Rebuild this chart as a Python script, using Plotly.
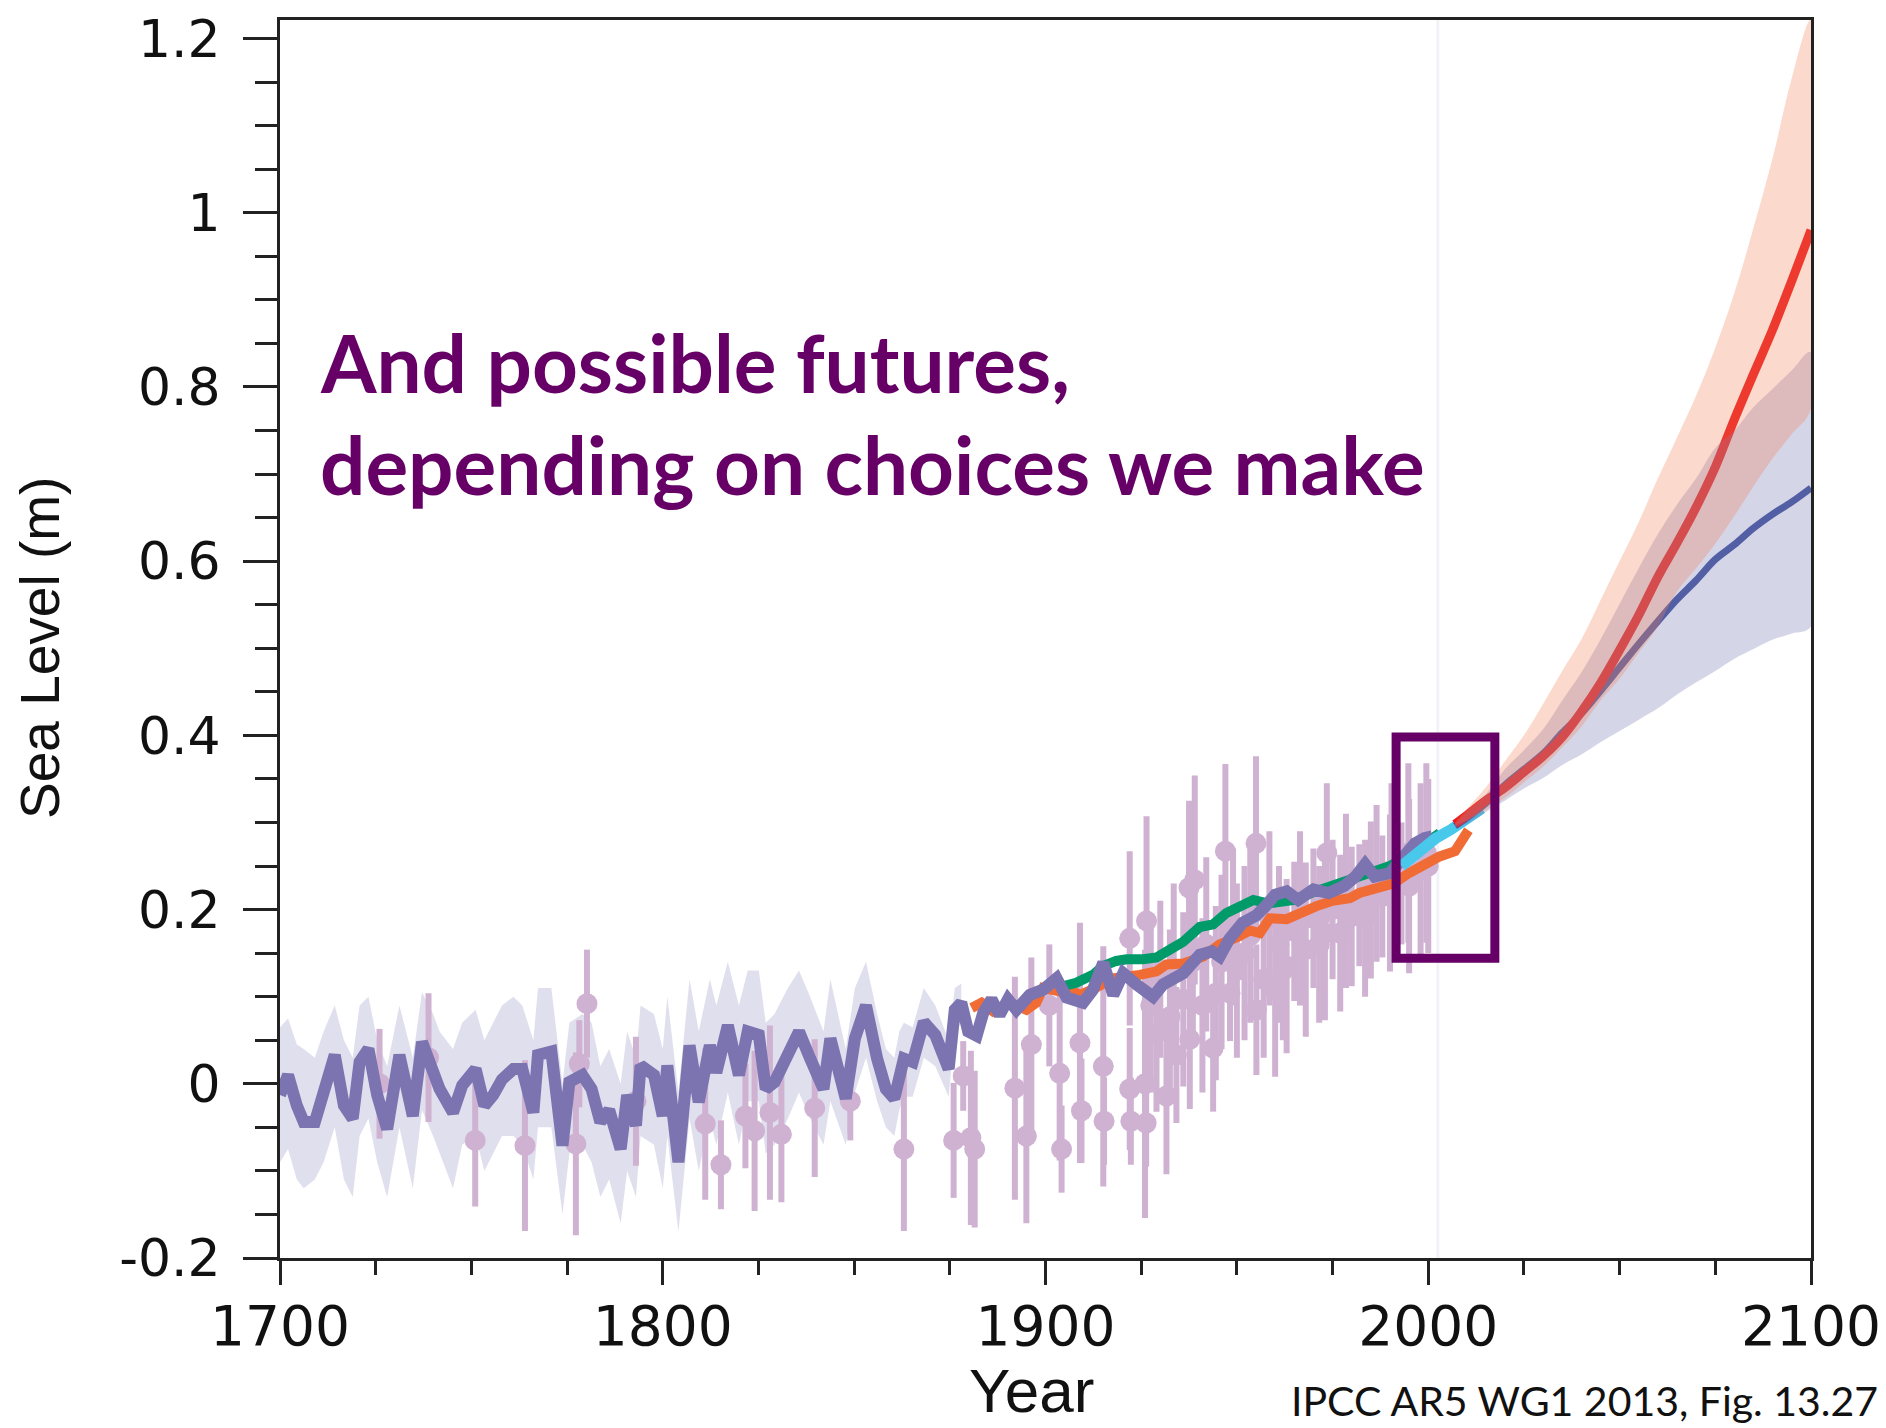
import plotly.graph_objects as go

# ---------------- data ----------------
# Reconstruction (purple, 1700-2001)
recon_years = [1700, 1702.1, 1704.4, 1706.2, 1709.1, 1711.4, 1714.3, 1716.7, 1719.0, 1720.8,
               1723.1, 1725.4, 1728.0, 1731.2, 1734.7, 1737.1, 1740.0, 1741.7, 1745.2, 1747.6,
               1751.1, 1753.4, 1755.7, 1758.0, 1761.0, 1763.3, 1766.2, 1767.4, 1770.9, 1773.8,
               1775.6, 1779.0, 1781.4, 1783.7, 1786.0, 1789.0, 1790.7, 1793.0, 1794.2, 1797.7,
               1800.0, 1801.2, 1804.1, 1807.0, 1809.4, 1812.3, 1814.0, 1817.0, 1819.9, 1822.2,
               1825.1, 1826.9, 1829.2, 1832.7, 1835.6, 1838.5, 1842.0, 1843.8, 1847.8, 1850.2,
               1853.1, 1856.0, 1858.3, 1860.5, 1861.8, 1863.0, 1865.3, 1868.2, 1871.2, 1874.7,
               1876.3, 1878.0,
               1879.8, 1882.0, 1883.7, 1885.9, 1888.0, 1890.2, 1892.4, 1895.9, 1899.4, 1902.9,
               1905.5, 1909.8, 1912.4, 1915.1, 1917.7, 1920.3, 1923.8, 1928.1, 1930.7, 1936.0,
               1940.3, 1943.5, 1945.5, 1948.0, 1951.5, 1955.0, 1957.5, 1960.0, 1963.0, 1966.0,
               1970.0, 1974.0, 1978.0, 1981.0, 1983.5, 1986.0, 1990.0, 1994.0, 1996.5, 1999.0,
               2001.0]
recon_level = [-0.013, 0.010, -0.025, -0.044, -0.044, -0.013, 0.033, -0.025, -0.040, 0.025,
               0.040, -0.013, -0.052, 0.033, -0.037, 0.048, 0.017, -0.006, -0.033, -0.002,
               0.017, -0.025, -0.013, 0.005, 0.017, 0.017, -0.033, 0.033, 0.037, -0.071,
               0.002, 0.010, -0.006, -0.044, -0.030, -0.075, -0.013, -0.048, 0.021, 0.010,
               -0.037, 0.021, -0.090, 0.044, -0.021, 0.044, 0.013, 0.067, 0.010, 0.060,
               0.056, -0.006, 0.002, 0.037, 0.060, 0.029, -0.006, 0.052, -0.017, 0.052,
               0.090, 0.029, -0.006, -0.017, 0.017, 0.029, 0.025, 0.071, 0.056, 0.017,
               0.085, 0.093,
               0.060, 0.055, 0.081, 0.097, 0.079, 0.097, 0.085, 0.102, 0.108, 0.121,
               0.099, 0.093, 0.108, 0.139, 0.102, 0.127, 0.114, 0.100, 0.114, 0.127,
               0.148, 0.152, 0.146, 0.166, 0.185, 0.193, 0.204, 0.217, 0.221, 0.211,
               0.223, 0.219, 0.227, 0.238, 0.252, 0.238, 0.242, 0.262, 0.276, 0.282,
               0.284]
# Uncertainty band of the reconstruction (1700-1878)
band_years = recon_years[:72]
band_hi = [0.065, 0.075, 0.045, 0.04, 0.03, 0.06, 0.09, 0.05, 0.03, 0.09,
           0.10, 0.05, 0.02, 0.09, 0.03, 0.105, 0.08, 0.06, 0.04, 0.07,
           0.085, 0.05, 0.07, 0.09, 0.10, 0.09, 0.05, 0.11, 0.11, 0.0,
           0.07, 0.08, 0.07, 0.02, 0.04, 0.0, 0.06, 0.03, 0.09, 0.08,
           0.04, 0.10, -0.01, 0.12, 0.06, 0.12, 0.09, 0.14, 0.09, 0.13,
           0.13, 0.07, 0.08, 0.11, 0.13, 0.10, 0.06, 0.12, 0.04, 0.11,
           0.14, 0.08, 0.04, 0.03, 0.06, 0.07, 0.065, 0.11, 0.09, 0.05,
           0.11, 0.115]
band_lo = [-0.09, -0.075, -0.11, -0.12, -0.11, -0.09, -0.05, -0.11, -0.13, -0.06,
           -0.04, -0.09, -0.13, -0.05, -0.12, -0.03, -0.06, -0.08, -0.12, -0.07,
           -0.06, -0.10, -0.08, -0.06, -0.06, -0.07, -0.11, -0.05, -0.05, -0.15,
           -0.08, -0.07, -0.09, -0.13, -0.11, -0.16, -0.10, -0.13, -0.06, -0.07,
           -0.12, -0.06, -0.17, -0.04, -0.10, -0.04, -0.07, -0.01, -0.07, -0.02,
           -0.02, -0.08, -0.07, -0.04, -0.01, -0.04, -0.07, -0.02, -0.07, -0.01,
           0.03, -0.02, -0.05, -0.06, -0.03, -0.015, -0.015, 0.03, 0.02, -0.015,
           0.06, 0.07]

# Salt-marsh / proxy data points with error bars
marsh_years = [1726, 1738.8, 1751, 1764, 1777.3, 1778.2, 1780.2, 1793, 1811.1, 1815.2,
               1821.6, 1824, 1828, 1831, 1839.7, 1849, 1863, 1876, 1878.5, 1880.5,
               1881.5, 1892, 1895, 1896.3, 1901, 1903.7, 1904.2, 1909, 1909.4, 1915.1,
               1915.3, 1922, 1922, 1922.3, 1926, 1926.4, 1926.3, 1929, 1931.6, 1932.5,
               1934.2, 1936, 1937.5, 1937.7, 1939, 1941, 1943.8, 1944.5, 1947, 1948.2,
               1950, 1952, 1955.1, 1955, 1957, 1960, 1961, 1963, 1965, 1968,
               1970, 1973, 1973.5, 1975, 1977, 1980, 1982, 1985, 1988, 1990,
               1993, 1995, 1998, 2000,
               1927.5, 1930, 1933.5, 1938.5, 1942, 1946, 1949, 1953.5, 1958.5, 1962,
               1966.5, 1971.5, 1978.5, 1983.5, 1986.5, 1990.4, 1994.8, 1999.5]
marsh_level = [0.0, 0.03, -0.065, -0.071, -0.069, 0.023, 0.092, -0.02, -0.046, -0.093,
               -0.037, -0.054, -0.033, -0.058, -0.028, -0.02, -0.075, -0.065, 0.009, -0.062,
               -0.075, -0.005, -0.06, 0.045, 0.09, 0.012, -0.075, 0.047, -0.031, 0.02,
               -0.043, 0.167, -0.006, -0.043, 0.0, 0.187, -0.045, 0.058, -0.014, 0.077,
               0.033, 0.097, 0.225, 0.051, 0.234, 0.09, 0.041, 0.104, 0.267, 0.104,
               0.13, 0.15, 0.085, 0.276, 0.12, 0.108, 0.16, 0.135, 0.175, 0.154,
               0.19, 0.173, 0.265, 0.2, 0.173, 0.192, 0.205, 0.211, 0.215, 0.219,
               0.23, 0.227, 0.245, 0.25,
               0.09, 0.12, 0.13, 0.14, 0.16, 0.14, 0.18, 0.17, 0.19, 0.13,
               0.19, 0.16, 0.21, 0.19, 0.23, 0.245, 0.265, 0.265]
marsh_err = [0.063, 0.074, 0.076, 0.098, 0.105, 0.05, 0.062, 0.074, 0.087, 0.051,
             0.06, 0.092, 0.10, 0.078, 0.079, 0.045, 0.094, 0.066, 0.04, 0.10,
             0.09, 0.128, 0.10, 0.10, 0.07, 0.10, 0.05, 0.138, 0.06, 0.138,
             0.05, 0.10, 0.07, 0.05, 0.154, 0.12, 0.05, 0.09, 0.09, 0.10,
             0.078, 0.10, 0.10, 0.08, 0.12, 0.10, 0.073, 0.10, 0.10, 0.055,
             0.10, 0.10, 0.075, 0.10, 0.09, 0.10, 0.09, 0.10, 0.08, 0.10,
             0.08, 0.10, 0.08, 0.08, 0.09, 0.08, 0.07, 0.09, 0.07, 0.09,
             0.07, 0.10, 0.10, 0.10,
             0.10, 0.09, 0.10, 0.09, 0.10, 0.10, 0.09, 0.10, 0.10, 0.08,
             0.10, 0.09, 0.10, 0.09, 0.09, 0.10, 0.103, 0.103]

# Tide-gauge reconstructions
orange_years = [1880.7, 1883.3, 1886.3, 1890.7, 1895.0, 1897.6, 1899.4, 1903.7, 1906.4, 1909.0,
                1913.0, 1917.7, 1924.6, 1929.0, 1931.6, 1936.0, 1941.2, 1945.5, 1949.9, 1953.4,
                1956.0, 1958.6, 1963.0, 1966.4, 1970.8, 1975.0, 1979.5, 1982.0, 1987.0, 1991.0,
                1995.0, 1999.0, 2003.0, 2007.0, 2009.5, 2010.5]
orange_level = [0.087, 0.093, 0.083, 0.093, 0.085, 0.093, 0.110, 0.106, 0.108, 0.102,
                0.110, 0.121, 0.125, 0.129, 0.137, 0.138, 0.146, 0.160, 0.168, 0.176,
                0.173, 0.190, 0.189, 0.196, 0.204, 0.210, 0.213, 0.219, 0.225, 0.230,
                0.242, 0.252, 0.261, 0.267, 0.282, 0.291]
green_years = [1904.5, 1908.0, 1912.4, 1915.0, 1918.5, 1921.2, 1925.5, 1929.0, 1932.5, 1936.0,
               1940.3, 1943.8, 1947.3, 1950.8, 1954.3, 1958.0, 1962.0, 1965.0, 1970.0, 1975.0,
               1980.0, 1985.0, 1990.0, 1995.0, 2000.0, 2003.0]
green_level = [0.112, 0.116, 0.125, 0.135, 0.141, 0.143, 0.143, 0.145, 0.154, 0.163,
               0.180, 0.183, 0.196, 0.205, 0.211, 0.207, 0.210, 0.211, 0.220, 0.227,
               0.234, 0.242, 0.250, 0.262, 0.278, 0.288]
# Satellite altimetry
sat_years = [1993.0, 1996.0, 1999.0, 2002.0, 2006.0, 2010.0, 2014.0]
sat_level = [0.250, 0.262, 0.273, 0.282, 0.292, 0.304, 0.316]

# Projections
proj_years = [2007, 2010, 2015, 2020, 2025, 2030, 2035, 2040, 2045, 2050,
              2055, 2060, 2065, 2070, 2075, 2080, 2085, 2090, 2095, 2100]
high_mid = [0.298, 0.308, 0.325, 0.340, 0.358, 0.376, 0.398, 0.427, 0.460, 0.498,
            0.538, 0.582, 0.621, 0.662, 0.708, 0.763, 0.815, 0.866, 0.922, 0.980]
high_hi = [0.300, 0.315, 0.340, 0.370, 0.400, 0.436, 0.474, 0.510, 0.555, 0.600,
           0.645, 0.695, 0.742, 0.790, 0.845, 0.908, 0.983, 1.063, 1.155, 1.222]
high_lo = [0.296, 0.302, 0.314, 0.328, 0.346, 0.364, 0.386, 0.410, 0.440, 0.465,
           0.495, 0.525, 0.565, 0.592, 0.620, 0.652, 0.686, 0.718, 0.746, 0.775]
low_mid = [0.296, 0.305, 0.322, 0.343, 0.361, 0.379, 0.403, 0.425, 0.451, 0.478,
           0.505, 0.531, 0.556, 0.578, 0.602, 0.619, 0.638, 0.654, 0.668, 0.684]
low_hi = [0.298, 0.312, 0.332, 0.361, 0.383, 0.407, 0.440, 0.472, 0.510, 0.551,
          0.592, 0.631, 0.665, 0.695, 0.730, 0.750, 0.777, 0.798, 0.819, 0.840]
low_lo = [0.294, 0.298, 0.312, 0.325, 0.339, 0.351, 0.366, 0.378, 0.392, 0.405,
          0.418, 0.431, 0.447, 0.461, 0.474, 0.488, 0.499, 0.510, 0.517, 0.525]

# Highlight box and faint reference line
box_years = [1991.6, 2017.4]
box_levels = [0.144, 0.398]
ref_line_year = 2002.5

x_tick_vals = [1700, 1800, 1900, 2000, 2100]
y_tick_vals = [-0.2, 0, 0.2, 0.4, 0.6, 0.8, 1.0, 1.2]
y_tick_text = ["-0.2", "0", "0.2", "0.4", "0.6", "0.8", "1", "1.2"]

title_lines = ["And possible futures,", "depending on choices we make"]
source_text = "IPCC AR5 WG1 2013, Fig. 13.27"

# ---------------- figure ----------------
# the page has an 8 px body margin, so the figure starts 8 px in from the window corner
W, H = 1878, 1420
ML, MR, MT, MB = 272, 75, 12, 170
PW, PH = W - ML - MR, H - MT - MB


def px_x(px):
    return (px - ML) / PW


def px_y(py):
    return 1 - (py - MT) / PH


PURPLE = "rgb(123,116,176)"
LILAC = "rgb(207,178,210)"
ORANGE = "rgb(241,107,53)"
GREEN = "rgb(0,155,105)"
CYAN = "rgb(72,200,235)"
RED = "rgb(236,28,30)"
BLUE = "rgb(70,86,160)"
DARK = "#222222"

fig = go.Figure()

fig.add_trace(go.Scatter(
    x=band_years + band_years[::-1], y=band_hi + band_lo[::-1],
    fill="toself", fillcolor="rgba(123,116,176,0.23)", line=dict(width=0),
    mode="lines", hoverinfo="skip", showlegend=False))

fig.add_trace(go.Scatter(
    x=marsh_years, y=marsh_level, mode="markers",
    marker=dict(color=LILAC, size=21),
    error_y=dict(type="data", array=marsh_err, color=LILAC, thickness=6, width=0),
    showlegend=False))

fig.add_trace(go.Scatter(x=orange_years, y=orange_level, mode="lines",
                         line=dict(color=ORANGE, width=10), showlegend=False))
fig.add_trace(go.Scatter(x=green_years, y=green_level, mode="lines",
                         line=dict(color=GREEN, width=10), showlegend=False))
fig.add_trace(go.Scatter(x=recon_years, y=recon_level, mode="lines",
                         line=dict(color=PURPLE, width=12), showlegend=False))
fig.add_trace(go.Scatter(x=sat_years, y=sat_level, mode="lines",
                         line=dict(color=CYAN, width=11), showlegend=False))

fig.add_trace(go.Scatter(x=proj_years, y=low_mid, mode="lines",
                         line=dict(color=BLUE, width=7, shape="spline"), showlegend=False))
fig.add_trace(go.Scatter(x=proj_years, y=high_mid, mode="lines",
                         line=dict(color=RED, width=9, shape="spline"), showlegend=False))

fig.add_trace(go.Scatter(
    x=proj_years + proj_years[::-1], y=low_hi + low_lo[::-1],
    fill="toself", fillcolor="rgba(115,115,178,0.30)", line=dict(width=0, shape="spline"),
    mode="lines", hoverinfo="skip", showlegend=False))
fig.add_trace(go.Scatter(
    x=proj_years + proj_years[::-1], y=high_hi + high_lo[::-1],
    fill="toself", fillcolor="rgba(242,128,85,0.30)", line=dict(width=0, shape="spline"),
    mode="lines", hoverinfo="skip", showlegend=False))

fig.add_shape(type="line", xref="x", yref="paper", x0=ref_line_year, x1=ref_line_year,
              y0=0, y1=1, line=dict(color="rgb(243,242,248)", width=3), layer="below")
fig.add_shape(type="rect", xref="x", yref="y", x0=box_years[0], x1=box_years[1],
              y0=box_levels[0], y1=box_levels[1],
              line=dict(color="#660066", width=9), layer="above")

fig.add_annotation(text=title_lines[0], xref="paper", yref="paper",
                   x=px_x(310), y=px_y(354), xanchor="left", yanchor="middle",
                   showarrow=False, font=dict(family="Lato", size=80, color="#660066", weight="bold"))
fig.add_annotation(text=title_lines[1], xref="paper", yref="paper",
                   x=px_x(310), y=px_y(456), xanchor="left", yanchor="middle",
                   showarrow=False, font=dict(family="Lato", size=80, color="#660066", weight="bold"))

fig.add_annotation(text="Sea Level (m)", xref="paper", yref="paper",
                   x=px_x(32), y=px_y(640), xanchor="center", yanchor="middle", textangle=-90,
                   showarrow=False, font=dict(family="Liberation Sans", size=55, color="#111"))
fig.add_annotation(text="Year", xref="paper", yref="paper",
                   x=px_x(1023), y=px_y(1382), xanchor="center", yanchor="middle",
                   showarrow=False, font=dict(family="Liberation Sans", size=62, color="#111"))
fig.add_annotation(text=source_text, xref="paper", yref="paper",
                   x=px_x(1872), y=px_y(1392), xanchor="right", yanchor="middle",
                   showarrow=False, font=dict(family="Lato", size=41, color="#111"))

fig.update_layout(
    width=W, height=H,
    margin=dict(l=ML, r=MR, t=MT, b=MB, pad=0, autoexpand=False),
    paper_bgcolor="white", plot_bgcolor="white",
    showlegend=False,
    xaxis=dict(range=[1700, 2100], tickmode="array", tickvals=x_tick_vals, automargin=False,
               ticks="outside", ticklen=24, tickwidth=3, tickcolor=DARK,
               showline=True, linewidth=3, linecolor=DARK, mirror=True,
               showgrid=False, zeroline=False, ticklabelstandoff=-6,
               tickfont=dict(family="DejaVu Sans", size=55, color="#111"),
               minor=dict(tickmode="linear", tick0=1700, dtick=25, ticks="outside",
                          ticklen=14, tickwidth=3, tickcolor=DARK, showgrid=False)),
    yaxis=dict(range=[-0.2, 1.2212], tickmode="array", tickvals=y_tick_vals, ticktext=y_tick_text,
               automargin=False,
               ticks="outside", ticklen=34, tickwidth=3, tickcolor=DARK,
               showline=True, linewidth=3, linecolor=DARK, mirror=True,
               showgrid=False, zeroline=False, ticklabelstandoff=12,
               tickfont=dict(family="DejaVu Sans", size=52, color="#111"),
               minor=dict(tickmode="linear", tick0=0, dtick=0.05, ticks="outside",
                          ticklen=22, tickwidth=3, tickcolor=DARK, showgrid=False)),
)

fig.write_html("out.html")
